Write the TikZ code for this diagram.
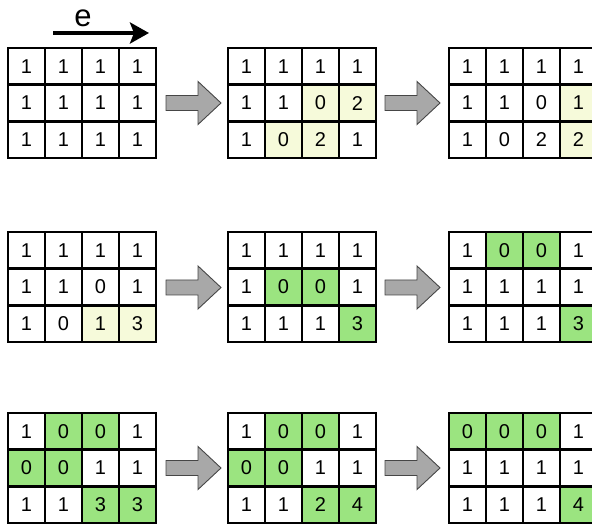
\documentclass[tikz,border=0pt]{standalone}
\usepackage{fontspec}
\setmainfont{Liberation Sans}
\usetikzlibrary{arrows.meta}
\colorlet{cw}{white}
\definecolor{cy}{RGB}{246,250,218}
\definecolor{cg}{RGB}{155,228,128}
\definecolor{arrfill}{RGB}{168,168,168}
\definecolor{arrline}{RGB}{70,70,70}
\begin{document}
\begin{tikzpicture}[x=1pt,y=-1pt,
  cell/.style={draw,line width=2.6pt,minimum width=37pt,minimum height=36.7pt,
    inner sep=0pt,font=\fontsize{20}{20}\selectfont},
  blockarrow/.style={fill=arrfill,draw=arrline,line width=0.9pt,line join=miter}]
\useasboundingbox (0,0) rectangle (592,526);

% direction of the sweep
\node[inner sep=0pt,anchor=base] (elabel) at (83,27) {\fontsize{31}{31}\selectfont e};
\coordinate (estart) at (53,33);
\coordinate (eend) at (149,33);
\draw[line width=4pt,-{Stealth[length=19pt,width=21pt,inset=4pt]}] (estart) -- (eend);

% the nine grids
\foreach \gx/\gy/\gn/\cells in {
  8/48/g1/{1/cw,1/cw,1/cw,1/cw,1/cw,1/cw,1/cw,1/cw,1/cw,1/cw,1/cw,1/cw},
  228/48/g2/{1/cw,1/cw,1/cw,1/cw,1/cw,1/cw,0/cy,2/cy,1/cw,0/cy,2/cy,1/cw},
  449/48/g3/{1/cw,1/cw,1/cw,1/cw,1/cw,1/cw,0/cw,1/cy,1/cw,0/cw,2/cw,2/cy},
  8/232/g4/{1/cw,1/cw,1/cw,1/cw,1/cw,1/cw,0/cw,1/cw,1/cw,0/cw,1/cy,3/cy},
  228/232/g5/{1/cw,1/cw,1/cw,1/cw,1/cw,0/cg,0/cg,1/cw,1/cw,1/cw,1/cw,3/cg},
  449/232/g6/{1/cw,0/cg,0/cg,1/cw,1/cw,1/cw,1/cw,1/cw,1/cw,1/cw,1/cw,3/cg},
  8/413/g7/{1/cw,0/cg,0/cg,1/cw,0/cg,0/cg,1/cw,1/cw,1/cw,1/cw,3/cg,3/cg},
  228/413/g8/{1/cw,0/cg,0/cg,1/cw,0/cg,0/cg,1/cw,1/cw,1/cw,1/cw,2/cg,4/cg},
  449/413/g9/{0/cg,0/cg,0/cg,1/cw,1/cw,1/cw,1/cw,1/cw,1/cw,1/cw,1/cw,4/cg}}
{
  \foreach \v/\c [count=\i from 0] in \cells
  {
    \pgfmathtruncatemacro{\col}{mod(\i,4)}
    \pgfmathtruncatemacro{\row}{int(\i/4)}
    \node[cell,fill=\c] (\gn-\i) at ({\gx+18.5+37*\col},{\gy+18.35+36.7*\row}) {\v};
  }
}

% block arrows between the grids
\foreach \s in {166,385}
{
  \foreach \c in {103,287.5,468}
  {
    \filldraw[blockarrow] (\s,\c-7.5)--(\s+32,\c-7.5)--(\s+32,\c-21.5)--(\s+55,\c)
      --(\s+32,\c+21.5)--(\s+32,\c+7.5)--(\s,\c+7.5)--cycle;
  }
}

\end{tikzpicture}
\end{document}
